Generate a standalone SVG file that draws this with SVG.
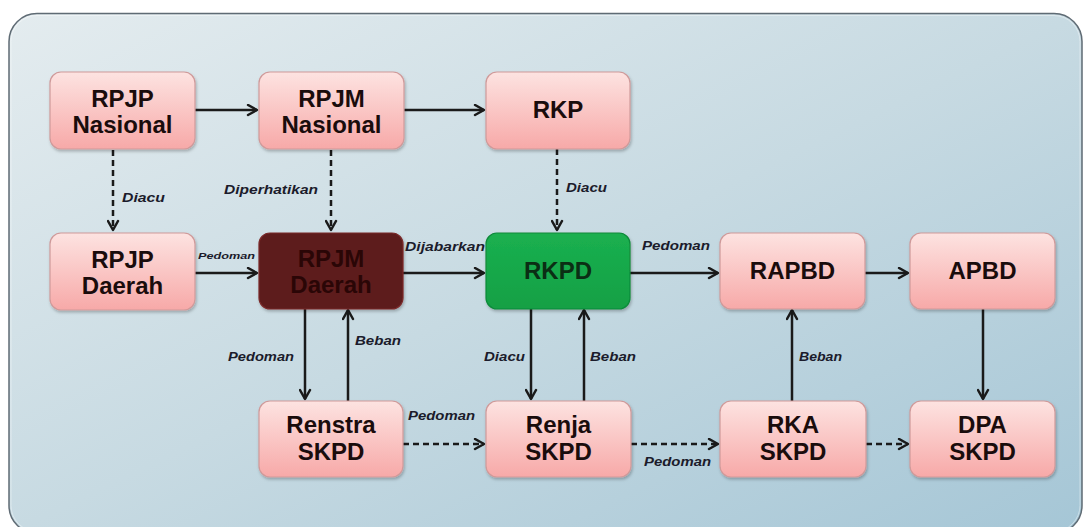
<svg xmlns="http://www.w3.org/2000/svg" width="1086" height="527" viewBox="0 0 1086 527">
<defs>
<linearGradient id="bg" x1="0" y1="0" x2="1" y2="1">
<stop offset="0" stop-color="#e4ecef"/>
<stop offset="0.5" stop-color="#c7dae2"/>
<stop offset="1" stop-color="#a5c6d6"/>
</linearGradient>
<linearGradient id="pink" x1="0" y1="0" x2="0" y2="1">
<stop offset="0" stop-color="#fde3e1"/>
<stop offset="1" stop-color="#f7a9a8"/>
</linearGradient>
<linearGradient id="green" x1="0" y1="0" x2="0" y2="1">
<stop offset="0" stop-color="#1bb050"/>
<stop offset="1" stop-color="#12a044"/>
</linearGradient>
<filter id="sh" x="-10%" y="-10%" width="125%" height="130%">
<feDropShadow dx="1" dy="2" stdDeviation="1.5" flood-color="#000" flood-opacity="0.25"/>
</filter>
<marker id="ah" viewBox="0 0 13 13" refX="11" refY="6.5" markerWidth="13" markerHeight="13" markerUnits="userSpaceOnUse" orient="auto">
<path d="M2,1.5 L11,6.5 L2,11.5" fill="none" stroke="#1a1a1a" stroke-width="2.5" stroke-linecap="round" stroke-linejoin="round"/>
</marker>
<style>
.box{fill:url(#pink);stroke:#cf9a9a;stroke-width:1.2;filter:url(#sh)}
.t{font-family:"Liberation Sans",Arial,sans-serif;font-weight:bold;font-size:24px;fill:#1a0c0c;text-anchor:middle}
.ln{fill:none;stroke:#1a1a1a;stroke-width:2.5}
.ds{stroke-dasharray:6,4}
.lb{font-family:"Liberation Sans",Arial,sans-serif;font-weight:bold;font-style:italic;font-size:12.5px;fill:#1b1b2b}
</style>
</defs>
<rect x="9" y="13.5" width="1073" height="520" rx="28" fill="url(#bg)" stroke="#5f6b74" stroke-width="1.5"/>
<rect x="11" y="15.5" width="1069" height="516" rx="26" fill="none" stroke="#ffffff" stroke-opacity="0.4" stroke-width="1"/>

<g id="connectors">
<line class="ln" x1="195" y1="110" x2="257" y2="110" marker-end="url(#ah)"/>
<line class="ln" x1="404" y1="110" x2="484" y2="110" marker-end="url(#ah)"/>
<line class="ln ds" x1="113" y1="150" x2="113" y2="230" marker-end="url(#ah)"/>
<line class="ln ds" x1="331" y1="150" x2="331" y2="230" marker-end="url(#ah)"/>
<line class="ln ds" x1="557" y1="149" x2="557" y2="230" marker-end="url(#ah)"/>
<line class="ln" x1="195" y1="273" x2="257" y2="273" marker-end="url(#ah)"/>
<line class="ln" x1="403" y1="273" x2="484" y2="273" marker-end="url(#ah)"/>
<line class="ln" x1="630" y1="273" x2="718" y2="273" marker-end="url(#ah)"/>
<line class="ln" x1="865" y1="273" x2="908" y2="273" marker-end="url(#ah)"/>
<line class="ln" x1="983" y1="309" x2="983" y2="399" marker-end="url(#ah)"/>
<line class="ln" x1="305" y1="309" x2="305" y2="399" marker-end="url(#ah)"/>
<line class="ln" x1="348" y1="401" x2="348" y2="310" marker-end="url(#ah)"/>
<line class="ln" x1="531" y1="309" x2="531" y2="399" marker-end="url(#ah)"/>
<line class="ln" x1="584" y1="401" x2="584" y2="310" marker-end="url(#ah)"/>
<line class="ln" x1="792" y1="401" x2="792" y2="310" marker-end="url(#ah)"/>
<line class="ln ds" x1="403" y1="444" x2="484" y2="444" marker-end="url(#ah)"/>
<line class="ln ds" x1="631" y1="444" x2="718" y2="444" marker-end="url(#ah)"/>
<line class="ln ds" x1="866" y1="444" x2="908" y2="444" marker-end="url(#ah)"/>
<text class="lb" x="122" y="202" textLength="43" lengthAdjust="spacingAndGlyphs">Diacu</text>
<text class="lb" x="224" y="194" textLength="94" lengthAdjust="spacingAndGlyphs">Diperhatikan</text>
<text class="lb" x="566" y="192" textLength="41" lengthAdjust="spacingAndGlyphs">Diacu</text>
<text class="lb" x="198" y="259" style="font-size:9.5px" textLength="57" lengthAdjust="spacingAndGlyphs">Pedoman</text>
<text class="lb" x="405" y="251" textLength="80" lengthAdjust="spacingAndGlyphs">Dijabarkan</text>
<text class="lb" x="642" y="250" textLength="68" lengthAdjust="spacingAndGlyphs">Pedoman</text>
<text class="lb" x="228" y="361" textLength="66" lengthAdjust="spacingAndGlyphs">Pedoman</text>
<text class="lb" x="355" y="345" textLength="46" lengthAdjust="spacingAndGlyphs">Beban</text>
<text class="lb" x="484" y="361" textLength="41" lengthAdjust="spacingAndGlyphs">Diacu</text>
<text class="lb" x="590" y="361" textLength="46" lengthAdjust="spacingAndGlyphs">Beban</text>
<text class="lb" x="799" y="361" textLength="43" lengthAdjust="spacingAndGlyphs">Beban</text>
<text class="lb" x="408" y="420" textLength="67" lengthAdjust="spacingAndGlyphs">Pedoman</text>
<text class="lb" x="644" y="466" textLength="67" lengthAdjust="spacingAndGlyphs">Pedoman</text>
</g>

<g id="rpjp-nasional">
<rect class="box" x="50" y="72" width="145" height="77" rx="11"/>
<text class="t" x="122.5" y="107">RPJP</text>
<text class="t" x="122.5" y="133">Nasional</text>
</g>
<g id="rpjm-nasional">
<rect class="box" x="259" y="72" width="145" height="77" rx="11"/>
<text class="t" x="331.5" y="107">RPJM</text>
<text class="t" x="331.5" y="133">Nasional</text>
</g>
<g id="rkp">
<rect class="box" x="486" y="72" width="144" height="77" rx="11"/>
<text class="t" x="558" y="118">RKP</text>
</g>
<g id="rpjp-daerah">
<rect class="box" x="50" y="233" width="145" height="77" rx="11"/>
<text class="t" x="122.5" y="268">RPJP</text>
<text class="t" x="122.5" y="294">Daerah</text>
</g>
<g id="rpjm-daerah">
<rect x="259" y="233" width="144" height="76" rx="11" fill="#5d1a1b" stroke="#7a2a2a" stroke-width="1.2" filter="url(#sh)"/>
<text class="t" x="331" y="267" style="fill:#2a0606">RPJM</text>
<text class="t" x="331" y="293" style="fill:#2a0606">Daerah</text>
</g>
<g id="rkpd">
<rect x="486" y="233" width="144" height="76" rx="11" fill="url(#green)" stroke="#0f8a3a" stroke-width="1.2" filter="url(#sh)"/>
<text class="t" x="558" y="279" style="fill:#0b2e14">RKPD</text>
</g>
<g id="rapbd">
<rect class="box" x="720" y="233" width="145" height="76" rx="11"/>
<text class="t" x="792.5" y="279">RAPBD</text>
</g>
<g id="apbd">
<rect class="box" x="910" y="233" width="145" height="76" rx="11"/>
<text class="t" x="982.5" y="279">APBD</text>
</g>
<g id="renstra-skpd">
<rect class="box" x="259" y="401" width="144" height="76" rx="11"/>
<text class="t" x="331" y="433">Renstra</text>
<text class="t" x="331" y="460">SKPD</text>
</g>
<g id="renja-skpd">
<rect class="box" x="486" y="401" width="145" height="76" rx="11"/>
<text class="t" x="558.5" y="433">Renja</text>
<text class="t" x="558.5" y="460">SKPD</text>
</g>
<g id="rka-skpd">
<rect class="box" x="720" y="401" width="146" height="76" rx="11"/>
<text class="t" x="793" y="433">RKA</text>
<text class="t" x="793" y="460">SKPD</text>
</g>
<g id="dpa-skpd">
<rect class="box" x="910" y="401" width="145" height="76" rx="11"/>
<text class="t" x="982.5" y="433">DPA</text>
<text class="t" x="982.5" y="460">SKPD</text>
</g>
</svg>
